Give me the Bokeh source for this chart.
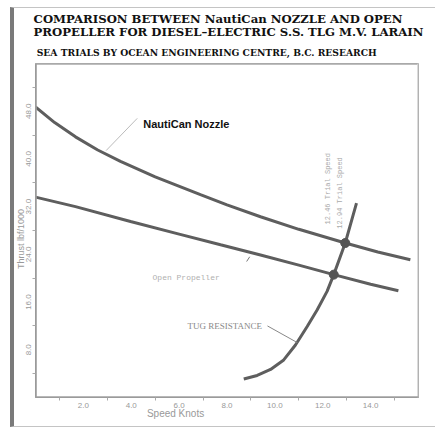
from bokeh.plotting import figure
from bokeh.models import Label, Arrow, FixedTicker, PrintfTickFormatter, Span
from bokeh.embed import file_html
from bokeh.resources import INLINE

# ---- data ----
nozzle_speed = [0.0, 0.8, 1.67, 2.6, 3.55, 5.0, 6.89, 8.0, 9.4, 11.0, 12.94, 14.3, 15.66]
nozzle_thrust = [48.7, 46.1, 43.7, 41.5, 39.6, 37.0, 34.0, 32.3, 30.3, 28.2, 25.9, 24.4, 23.1]

open_speed = [0.0, 1.67, 3.97, 6.0, 7.73, 9.4, 11.0, 12.46, 14.0, 15.16]
open_thrust = [33.6, 32.0, 29.5, 27.4, 25.6, 23.9, 22.2, 20.6, 19.0, 17.9]

resist_speed = [8.7, 9.26, 9.82, 10.37, 10.86, 11.35, 11.77, 12.18, 12.46, 12.94, 13.41]
resist_thrust = [3.1, 3.7, 4.7, 6.3, 8.8, 11.9, 14.7, 17.8, 20.6, 25.9, 32.6]

trial_speed = [12.46, 12.94]
trial_thrust = [20.6, 25.9]
trial_labels = ["12.46 Trial Speed", "12.94 Trial Speed"]

x_ticks = [2, 4, 6, 8, 10, 12, 14]
x_minor = [1, 3, 5, 7, 9, 11, 13, 15]
y_ticks = [8, 16, 24, 32, 40, 48]
y_minor = [4, 12, 20, 28, 36, 44, 52]

title_lines = [
    "COMPARISON BETWEEN NautiCan NOZZLE AND OPEN",
    "PROPELLER FOR DIESEL\u2013ELECTRIC S.S. TLG M.V. LARAIN",
    "SEA TRIALS BY OCEAN ENGINEERING CENTRE, B.C. RESEARCH",
]

# ---- figure ----
p = figure(width=425, height=420, x_range=(0, 16), y_range=(0, 56),
           output_backend="svg", toolbar_location=None,
           min_border_left=21, min_border_right=21,
           min_border_top=55, min_border_bottom=31,
           styles={"margin-left": "10px", "margin-top": "7px",
                   "border-left": "4px solid #7a7a7a",
                   "border-top": "1px solid #c4c4c4",
                   "border-bottom": "1px solid #c4c4c4"})
p.grid.visible = False
p.outline_line_color = "#aaaaaa"
p.outline_line_width = 1
p.background_fill_color = "white"
p.border_fill_color = "white"

for ax in (p.xaxis[0], p.yaxis[0]):
    ax.axis_line_color = "#999999"
    ax.major_tick_line_color = None
    ax.minor_tick_line_color = "#aaaaaa"
    ax.major_tick_in = 0
    ax.major_tick_out = 0
    ax.minor_tick_in = 0
    ax.minor_tick_out = 3
    ax.major_label_text_color = "#999999"
    ax.major_label_text_font = "Liberation Sans"
    ax.major_label_text_font_size = "8px"
    ax.major_label_standoff = 2
    ax.formatter = PrintfTickFormatter(format="%.1f")

p.xaxis[0].ticker = FixedTicker(ticks=x_ticks, minor_ticks=x_minor)
p.yaxis[0].ticker = FixedTicker(ticks=y_ticks, minor_ticks=y_minor)
p.yaxis[0].major_label_orientation = "vertical"
p.yaxis[0].major_label_standoff = 1

# frame border lines (inside the plotting area)
p.add_layout(Span(location=55.88, dimension="width", line_color="#a8a8a8", line_width=1.2))
p.add_layout(Span(location=15.97, dimension="height", line_color="#d4d4d4", line_width=1.2))
p.add_layout(Span(location=0.1, dimension="width", line_color="#a0a0a0", line_width=1.2))
p.add_layout(Span(location=0.03, dimension="height", line_color="#a0a0a0", line_width=1.2))

# ---- curves ----
curve_color = "#5e5e5e"
p.line(nozzle_speed, nozzle_thrust, line_color=curve_color, line_width=3)
p.line(open_speed, open_thrust, line_color=curve_color, line_width=3)
p.line(resist_speed, resist_thrust, line_color=curve_color, line_width=3)
p.scatter(trial_speed, trial_thrust, size=9, color="#555555")

# ---- leader lines ----
p.add_layout(Arrow(end=None, x_start=4.25, y_start=46.8, x_end=2.95, y_end=41.4,
                   line_color="#bbbbbb", line_width=1))
p.add_layout(Arrow(end=None, x_start=9.69, y_start=12.0, x_end=10.94, y_end=9.2,
                   line_color="#888888", line_width=1))
p.add_layout(Arrow(end=None, x_start=8.82, y_start=22.8, x_end=8.95, y_end=23.6,
                   line_color="#777777", line_width=1))

# ---- in-plot labels ----
p.add_layout(Label(x=4.5, y=45.9, text="NautiCan Nozzle", text_font="Liberation Sans",
                   text_font_style="bold", text_font_size="11px", text_color="#111111",
                   text_baseline="middle"))
p.add_layout(Label(x=4.89, y=20.1, text="Open Propeller", text_font="Liberation Mono",
                   text_font_size="8px", text_color="#b0b0b0", text_baseline="middle"))
p.add_layout(Label(x=6.35, y=12.0, text="TUG RESISTANCE", text_font="Liberation Serif",
                   text_font_size="9px", text_color="#888888", text_baseline="middle"))
for xs, ys, t in zip([12.24, 12.74], [35.0, 34.3], trial_labels):
    p.add_layout(Label(x=xs, y=ys, text=t, angle=1.5708, text_font="Liberation Mono",
                       text_font_size="7px", text_color="#aaaaaa",
                       text_align="center", text_baseline="middle"))

# ---- axis titles (placed in side panels so they are not clipped) ----
p.add_layout(Label(x=5.85, y=-2.6, text="Speed Knots", text_font="Liberation Sans",
                   text_font_size="10px", text_color="#999999",
                   text_align="center", text_baseline="middle"), "below")
p.add_layout(Label(x=-0.6, y=26.8, text="Thrust  lbf/1000", angle=1.5708,
                   text_font="Liberation Sans", text_font_size="9px", text_color="#999999",
                   text_align="center", text_baseline="middle"), "right")

# ---- titles ----
p.add_layout(Label(x=-0.08, y=63.4, text=title_lines[0], text_font="DejaVu Serif",
                   text_font_style="bold", text_font_size="11.7px", text_color="#111111",
                   text_baseline="middle"), "above")
p.add_layout(Label(x=-0.08, y=61.2, text=title_lines[1], text_font="DejaVu Serif",
                   text_font_style="bold", text_font_size="11.7px", text_color="#111111",
                   text_baseline="middle"), "above")
p.add_layout(Label(x=0.05, y=57.9, text=title_lines[2], text_font="DejaVu Serif",
                   text_font_style="bold", text_font_size="9.2px", text_color="#111111",
                   text_baseline="middle"), "above")

open("out.html", "w").write(file_html(p, INLINE))
